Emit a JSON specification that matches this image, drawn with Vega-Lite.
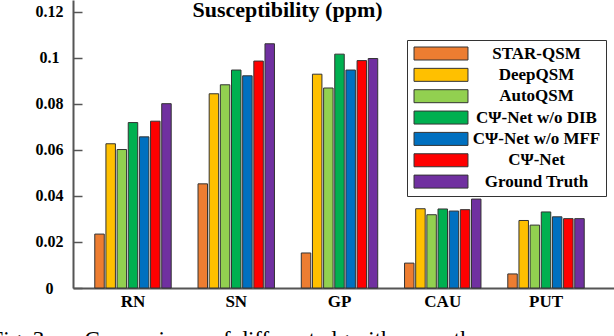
{
  "$schema": "https://vega.github.io/schema/vega-lite/v6.json",
  "width": 541,
  "height": 288,
  "autosize": {"type": "none"},
  "padding": {"left": 73, "top": 0, "right": 0, "bottom": 48},
  "background": "white",
  "title": {
    "text": "Susceptibility (ppm)",
    "font": "Liberation Serif",
    "fontSize": 22,
    "fontWeight": "bold",
    "color": "black",
    "anchor": "middle",
    "frame": "group",
    "dx": -56,
    "baseline": "alphabetic",
    "offset": -39
  },
  "data": {
    "values": [
      {"region": "RN", "method": "STAR-QSM", "value": 0.0234},
      {"region": "RN", "method": "DeepQSM", "value": 0.0626},
      {"region": "RN", "method": "AutoQSM", "value": 0.0601},
      {"region": "RN", "method": "CΨ-Net w/o DIB", "value": 0.0718},
      {"region": "RN", "method": "CΨ-Net w/o MFF", "value": 0.0656},
      {"region": "RN", "method": "CΨ-Net", "value": 0.0724},
      {"region": "RN", "method": "Ground Truth", "value": 0.0800},
      {"region": "SN", "method": "STAR-QSM", "value": 0.0452},
      {"region": "SN", "method": "DeepQSM", "value": 0.0843},
      {"region": "SN", "method": "AutoQSM", "value": 0.0882},
      {"region": "SN", "method": "CΨ-Net w/o DIB", "value": 0.0946},
      {"region": "SN", "method": "CΨ-Net w/o MFF", "value": 0.0921},
      {"region": "SN", "method": "CΨ-Net", "value": 0.0985},
      {"region": "SN", "method": "Ground Truth", "value": 0.1060},
      {"region": "GP", "method": "STAR-QSM", "value": 0.0152},
      {"region": "GP", "method": "DeepQSM", "value": 0.0928},
      {"region": "GP", "method": "AutoQSM", "value": 0.0868},
      {"region": "GP", "method": "CΨ-Net w/o DIB", "value": 0.1015},
      {"region": "GP", "method": "CΨ-Net w/o MFF", "value": 0.0946},
      {"region": "GP", "method": "CΨ-Net", "value": 0.0987},
      {"region": "GP", "method": "Ground Truth", "value": 0.0996},
      {"region": "CAU", "method": "STAR-QSM", "value": 0.0108},
      {"region": "CAU", "method": "DeepQSM", "value": 0.0344},
      {"region": "CAU", "method": "AutoQSM", "value": 0.0318},
      {"region": "CAU", "method": "CΨ-Net w/o DIB", "value": 0.0343},
      {"region": "CAU", "method": "CΨ-Net w/o MFF", "value": 0.0334},
      {"region": "CAU", "method": "CΨ-Net", "value": 0.0340},
      {"region": "CAU", "method": "Ground Truth", "value": 0.0386},
      {"region": "PUT", "method": "STAR-QSM", "value": 0.0061},
      {"region": "PUT", "method": "DeepQSM", "value": 0.0293},
      {"region": "PUT", "method": "AutoQSM", "value": 0.0273},
      {"region": "PUT", "method": "CΨ-Net w/o DIB", "value": 0.0330},
      {"region": "PUT", "method": "CΨ-Net w/o MFF", "value": 0.0309},
      {"region": "PUT", "method": "CΨ-Net", "value": 0.0301},
      {"region": "PUT", "method": "Ground Truth", "value": 0.0301}
    ]
  },
  "mark": {"type": "bar", "stroke": "#333333", "strokeWidth": 1},
  "encoding": {
    "x": {
      "field": "region",
      "type": "nominal",
      "sort": ["RN", "SN", "GP", "CAU", "PUT"],
      "scale": {"paddingInner": 0.2446, "paddingOuter": 0.242, "align": 0.42},
      "axis": {
        "title": "Fig. 3.\u00a0\u00a0\u00a0\u00a0\u00a0 Comparisons of different algorithms on the",
        "titleFont": "Liberation Serif",
        "titleFontSize": 23,
        "titleFontWeight": "normal",
        "titleColor": "black",
        "titleAlign": "left",
        "titleAnchor": "start",
        "titleBaseline": "alphabetic",
        "titleX": -83,
        "titleY": 58,
        "labelAngle": 0,
        "labelFont": "Liberation Serif",
        "labelFontSize": 17,
        "labelFontWeight": "bold",
        "labelColor": "black",
        "labelPadding": 5,
        "ticks": false,
        "domainColor": "#555555",
        "domainWidth": 2,
        "grid": false
      }
    },
    "xOffset": {
      "field": "method",
      "type": "nominal",
      "sort": ["STAR-QSM", "DeepQSM", "AutoQSM", "CΨ-Net w/o DIB", "CΨ-Net w/o MFF", "CΨ-Net", "Ground Truth"],
      "scale": {"paddingInner": 0.15, "paddingOuter": 0.07}
    },
    "y": {
      "field": "value",
      "type": "quantitative",
      "scale": {"domain": [0, 0.125], "nice": false},
      "axis": {
        "title": null,
        "values": [0, 0.02, 0.04, 0.06, 0.08, 0.1, 0.12],
        "format": "~g",
        "labelFont": "Liberation Serif",
        "labelFontSize": 16,
        "labelFontWeight": "bold",
        "labelColor": "black",
        "labelAlign": "center",
        "labelBaseline": "middle",
        "labelPadding": 33,
        "tickSize": -9,
        "tickColor": "#555555",
        "tickWidth": 1.5,
        "domainColor": "#555555",
        "domainWidth": 2,
        "grid": false
      }
    },
    "color": {
      "field": "method",
      "type": "nominal",
      "scale": {
        "domain": ["STAR-QSM", "DeepQSM", "AutoQSM", "CΨ-Net w/o DIB", "CΨ-Net w/o MFF", "CΨ-Net", "Ground Truth"],
        "range": ["#ED7D31", "#FFC000", "#92D050", "#00B050", "#0070C0", "#FF0000", "#7030A0"]
      },
      "legend": {
        "orient": "none",
        "legendX": 334,
        "legendY": 40,
        "title": null,
        "padding": 5,
        "strokeColor": "#333333",
        "fillColor": "white",
        "symbolType": "M-4.15,-1L4.15,-1L4.15,1L-4.15,1Z",
        "symbolSize": 169,
        "symbolStrokeColor": "#333333",
        "symbolStrokeWidth": 1,
        "symbolOpacity": 1,
        "symbolOffset": 20.5,
        "labelFont": "Liberation Serif",
        "labelFontSize": 17,
        "labelFontWeight": "bold",
        "labelColor": "black",
        "labelAlign": "center",
        "labelOffset": 87,
        "labelLimit": 300,
        "rowPadding": 3.35
      }
    }
  },
  "config": {"view": {"stroke": null}}
}
